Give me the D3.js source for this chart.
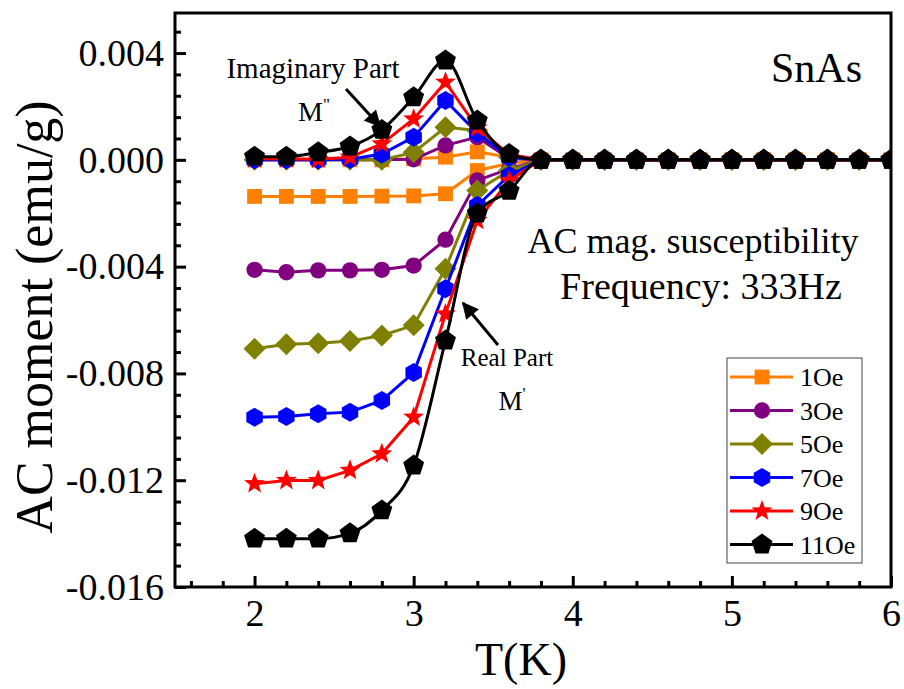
<!DOCTYPE html>
<html>
<head>
<meta charset="utf-8">
<script src="https://d3js.org/d3.v7.min.js"></script>
<style>
  body { margin: 0; background: #fff; }
  text { font-family: "Liberation Serif", "Times New Roman", serif; fill: #000; }
</style>
</head>
<body>
<div id="my_dataviz"></div>
<script>

// temperatures (K)
var temps = [2.0, 2.2, 2.4, 2.6, 2.8, 3.0, 3.2, 3.4, 3.6, 3.8, 4.0, 4.2, 4.4, 4.6, 4.8, 5.0, 5.2, 5.4, 5.6, 5.8, 6.0];

// real part M' (emu/g)
var real1  = [-0.00137, -0.00137, -0.00137, -0.00137, -0.00136, -0.00135, -0.00127, -0.00040, -0.00014, 0, 0, 0, 0, 0, 0, 0, 0, 0, 0, 0, 0];
var real3  = [-0.00412, -0.00421, -0.00414, -0.00414, -0.00412, -0.00396, -0.00299, -0.00077, -0.00034, 0, 0, 0, 0, 0, 0, 0, 0, 0, 0, 0, 0];
var real5  = [-0.00708, -0.00691, -0.00687, -0.00679, -0.00658, -0.00620, -0.00408, -0.00115, -0.00040, 0, 0, 0, 0, 0, 0, 0, 0, 0, 0, 0, 0];
var real7  = [-0.00964, -0.00961, -0.00951, -0.00945, -0.00901, -0.00797, -0.00483, -0.00171, -0.00059, 0, 0, 0, 0, 0, 0, 0, 0, 0, 0, 0, 0];
var real9  = [-0.01213, -0.01201, -0.01201, -0.01163, -0.01101, -0.00964, -0.00577, -0.00227, -0.00078, 0, 0, 0, 0, 0, 0, 0, 0, 0, 0, 0, 0];
var real11 = [-0.01419, -0.01419, -0.01419, -0.01399, -0.01313, -0.01145, -0.00677, -0.00201, -0.00116, 0, 0, 0, 0, 0, 0, 0, 0, 0, 0, 0, 0];

// imaginary part M'' (emu/g)
var imag1  = [0, 0, 0, 0, 0, 0.00004, 0.00010, 0.00030, 0.00010, 0, 0, 0, 0, 0, 0, 0, 0, 0, 0, 0, 0];
var imag3  = [0, 0, 0, 0, 0, 0.00002, 0.00054, 0.00085, 0.00005, 0, 0, 0, 0, 0, 0, 0, 0, 0, 0, 0, 0];
var imag5  = [0, 0, 0, 0, 0, 0.00028, 0.00122, 0.00110, 0.00010, 0, 0, 0, 0, 0, 0, 0, 0, 0, 0, 0, 0];
var imag7  = [0, 0, 0, 0.00002, 0.00022, 0.00085, 0.00222, 0.00100, 0.00010, 0, 0, 0, 0, 0, 0, 0, 0, 0, 0, 0, 0];
var imag9  = [0.00004, 0.00004, 0.00002, 0.00010, 0.00060, 0.00153, 0.00291, 0.00120, 0.00020, 0, 0, 0, 0, 0, 0, 0, 0, 0, 0, 0, 0];
var imag11 = [0.00012, 0.00012, 0.00028, 0.00050, 0.00112, 0.00234, 0.00372, 0.00147, 0.00022, 0, 0, 0, 0, 0, 0, 0, 0, 0, 0, 0, 0];

// series names, colours, markers
var names   = ["1Oe", "3Oe", "5Oe", "7Oe", "9Oe", "11Oe"];
var colors  = ["#ff8000", "#800080", "#808000", "#0000ff", "#ff0000", "#000000"];
var markers = ["square", "circle", "diamond", "hexagon", "star", "pentagon"];
var realSeries = [real1, real3, real5, real7, real9, real11];
var imagSeries = [imag1, imag3, imag5, imag7, imag9, imag11];

// axis ticks
var xTicks = [2, 3, 4, 5, 6];
var xTickLabels = ["2", "3", "4", "5", "6"];
var yTicks = [0.004, 0.000, -0.004, -0.008, -0.012, -0.016];
var yTickLabels = ["0.004", "0.000", "-0.004", "-0.008", "-0.012", "-0.016"];

var W = 904, H = 689;
var margin = {top: 13, right: 13, bottom: 102, left: 175},
    width = W - margin.left - margin.right,
    height = H - margin.top - margin.bottom;

var svg = d3.select("#my_dataviz")
  .append("svg")
    .attr("width", W)
    .attr("height", H);

var g = svg.append("g")
    .attr("transform", "translate(" + margin.left + "," + margin.top + ")");

var x = d3.scaleLinear().domain([1.5, 6]).range([0, width]);
var y = d3.scaleLinear().domain([-0.016, 0.0055]).range([height, 0]);

g.append("clipPath").attr("id", "clip")
  .append("rect").attr("width", width).attr("height", height);

// marker shapes
function polygon(n, r, rot) {
  var pts = [];
  for (var i = 0; i < n; i++) {
    var a = rot + i * 2 * Math.PI / n;
    pts.push([r * Math.sin(a), -r * Math.cos(a)]);
  }
  return "M" + pts.map(function(p) { return p[0].toFixed(2) + "," + p[1].toFixed(2); }).join("L") + "Z";
}
function star(R, r) {
  var pts = [];
  for (var i = 0; i < 10; i++) {
    var a = i * Math.PI / 5;
    var rr = i % 2 ? r : R;
    pts.push([rr * Math.sin(a), -rr * Math.cos(a)]);
  }
  return "M" + pts.map(function(p) { return p[0].toFixed(2) + "," + p[1].toFixed(2); }).join("L") + "Z";
}
function markerPath(m) {
  if (m == "square") return polygon(4, 10.5, Math.PI / 4);
  if (m == "circle") return d3.symbol(d3.symbolCircle, 210)();
  if (m == "diamond") return polygon(4, 11, 0);
  if (m == "hexagon") return polygon(6, 9.5, 0);
  if (m == "star") return star(11, 4.6);
  return polygon(5, 11, 0);
}

var plot = g.append("g").attr("clip-path", "url(#clip)");

realSeries.forEach(function(s, k) {
  [s, imagSeries[k]].forEach(function(vals) {
    var pts = temps.map(function(t, i) { return [t, vals[i]]; });
    var line = d3.line()
      .x(function(d) { return x(d[0]); })
      .y(function(d) { return y(d[1]); })
      .curve(k == 5 ? d3.curveMonotoneX : d3.curveLinear);
    plot.append("path")
      .datum(pts)
      .attr("fill", "none")
      .attr("stroke", colors[k])
      .attr("stroke-width", 3)
      .attr("d", line);
    plot.selectAll(null)
      .data(pts)
      .enter()
      .append("path")
        .attr("transform", function(d) { return "translate(" + x(d[0]) + "," + y(d[1]) + ")"; })
        .attr("d", markerPath(markers[k]))
        .attr("fill", colors[k]);
  });
});

// axes
var xAxis = g.append("g")
  .attr("transform", "translate(0," + height + ")")
  .call(d3.axisBottom(x).tickValues(xTicks).tickSizeInner(-11).tickSizeOuter(0)
    .tickFormat(function(d, i) { return xTickLabels[i]; }));
xAxis.selectAll("text").attr("y", 12).style("font-size", "38px");

g.append("g")
  .attr("transform", "translate(0," + height + ")")
  .call(d3.axisBottom(x).tickValues(d3.range(1.6, 6, 0.2).filter(function(v) { return Math.abs(v - Math.round(v)) > 0.05; }))
    .tickSizeInner(-6).tickSizeOuter(0).tickFormat(""));

var yAxis = g.append("g")
  .call(d3.axisLeft(y).tickValues(yTicks).tickSizeInner(-11).tickSizeOuter(0)
    .tickFormat(function(d, i) { return yTickLabels[i]; }));
yAxis.selectAll("text").attr("x", -11).style("font-size", "38px");

g.append("g")
  .call(d3.axisLeft(y).tickValues(d3.range(-0.0152, 0.0054, 0.0008).filter(function(v) { return Math.abs(v / 0.004 - Math.round(v / 0.004)) > 0.05; }))
    .tickSizeInner(-6).tickSizeOuter(0).tickFormat(""));

g.selectAll(".domain").remove();
g.selectAll(".tick line").attr("stroke", "#000").attr("stroke-width", 3);
g.selectAll(".tick text").style("font-family", "Liberation Serif").attr("fill", "#000");

// frame
g.append("rect")
  .attr("width", width).attr("height", height)
  .attr("fill", "none").attr("stroke", "#000").attr("stroke-width", 3);

// axis titles
svg.append("text")
  .attr("x", 521).attr("y", 675)
  .attr("text-anchor", "middle").style("font-size", "46px")
  .text("T(K)");
svg.append("text")
  .attr("transform", "translate(52," + 317 + ") rotate(-90)")
  .attr("text-anchor", "middle").style("font-size", "52px")
  .text("AC moment (emu/g)");

// annotations
svg.append("text").attr("x", 862).attr("y", 82).attr("text-anchor", "end")
  .style("font-size", "42px").text("SnAs");
svg.append("text").attr("x", 693).attr("y", 253).attr("text-anchor", "middle")
  .style("font-size", "36px").text("AC mag. susceptibility");
svg.append("text").attr("x", 701).attr("y", 299).attr("text-anchor", "middle")
  .style("font-size", "38px").text("Frequency: 333Hz");
svg.append("text").attr("x", 313).attr("y", 78).attr("text-anchor", "middle")
  .style("font-size", "29px").text("Imaginary Part");
var m2 = svg.append("text").attr("x", 314).attr("y", 121).attr("text-anchor", "middle")
  .style("font-size", "28px");
m2.append("tspan").text("M");
m2.append("tspan").attr("dy", -11).style("font-size", "17px").text("\"");
svg.append("text").attr("x", 507).attr("y", 366).attr("text-anchor", "middle")
  .style("font-size", "25px").text("Real Part");
var m1 = svg.append("text").attr("x", 512).attr("y", 410).attr("text-anchor", "middle")
  .style("font-size", "27px");
m1.append("tspan").text("M");
m1.append("tspan").attr("dy", -11).style("font-size", "17px").text("'");

// arrows
svg.append("defs").append("marker")
  .attr("id", "ah").attr("viewBox", "0 0 10 10").attr("refX", 9).attr("refY", 5)
  .attr("markerWidth", 6).attr("markerHeight", 5.5).attr("orient", "auto")
  .append("path").attr("d", "M0,0L10,5L0,10Z").attr("fill", "#000");
svg.append("line").attr("x1", 346).attr("y1", 89).attr("x2", 380).attr("y2", 126)
  .attr("stroke", "#000").attr("stroke-width", 3).attr("marker-end", "url(#ah)");
svg.append("line").attr("x1", 498).attr("y1", 345).attr("x2", 463).attr("y2", 303)
  .attr("stroke", "#000").attr("stroke-width", 3).attr("marker-end", "url(#ah)");

// legend
var legX = 727, legY = 358;
var legend = svg.append("g");
legend.append("rect").attr("x", legX).attr("y", legY).attr("width", 135).attr("height", 205)
  .attr("fill", "#fff").attr("stroke", "#444").attr("stroke-width", 1);
names.forEach(function(n, k) {
  var yy = legY + 19 + k * 33.5;
  legend.append("line").attr("x1", legX + 3).attr("x2", legX + 66).attr("y1", yy).attr("y2", yy)
    .attr("stroke", colors[k]).attr("stroke-width", 3);
  legend.append("path").attr("transform", "translate(" + (legX + 35) + "," + yy + ")")
    .attr("d", markerPath(markers[k])).attr("fill", colors[k]);
  legend.append("text").attr("x", legX + 73).attr("y", yy + 9).style("font-size", "26px").text(n);
});

</script>
</body>
</html>
